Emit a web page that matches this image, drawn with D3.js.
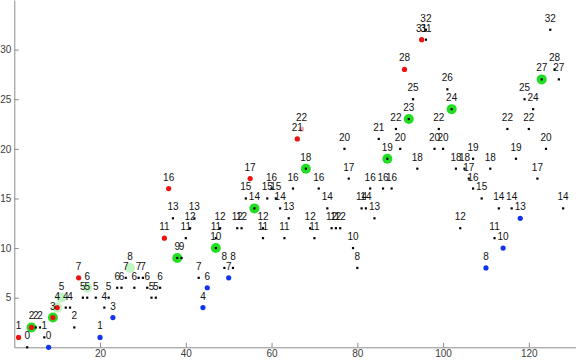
<!DOCTYPE html>
<html>
<head>
<meta charset="utf-8">
<script src="https://cdn.jsdelivr.net/npm/d3@7/dist/d3.min.js"></script>
<style>
  body { margin: 0; background: #fff; }
  svg { display: block; font-family: "Liberation Sans", Arial, sans-serif; }
</style>
</head>
<body>
<div class="chart"></div>
<script>
// values: x position, y value (each label = its y value)
const blackX = [3, 5, 6, 7, 12, 13, 14, 16, 17, 19, 21, 22, 24, 25, 26, 28, 29, 30, 31, 32, 33, 34,
  37, 38, 39, 40, 41, 42, 43, 47, 47, 48, 49, 51, 52, 53, 54, 56, 58, 58, 59, 60, 61, 62, 63, 64, 65,
  68, 69, 70, 71, 73, 74, 75, 76, 77, 78, 79, 80, 81, 82, 83, 84, 85, 86, 87, 88, 89, 90, 92, 93, 94,
  96, 96, 98, 99, 100, 101, 102, 103, 104, 105, 106, 107, 107, 109, 111, 112, 113, 115, 116, 117, 119,
  120, 121, 122, 123, 124, 125, 126, 127, 128];
const blackY = [0, 2, 2, 1, 4, 4, 2, 5, 5, 5, 4, 5, 6, 6, 7, 6, 7, 7, 6, 5, 5, 6,
  13, 9, 9, 11, 12, 13, 7, 10, 11, 12, 8, 8, 12, 12, 15, 14, 11, 12, 15, 16, 15, 14, 11, 13, 16,
  18, 12, 11, 16, 14, 12, 12, 12, 20, 17, 10, 8, 14, 14, 16, 13, 21, 16, 19, 16, 22, 20, 23, 25, 18,
  31, 32, 20, 22, 20, 26, 24, 18, 12, 18, 17, 19, 16, 15, 18, 11, 14, 22, 14, 19, 25,
  22, 24, 17, 27, 20, 32, 28, 27, 14];

const redX = [1, 4, 9, 10, 15, 35, 36, 55, 66, 91, 95];
const redY = [1, 2, 3, 4, 7, 11, 16, 17, 21, 28, 31];

const pinkX = [67];
const pinkY = [22];

const blueX = [8, 20, 23, 44, 45, 50, 110, 114, 118];
const blueY = [0, 1, 3, 4, 6, 7, 8, 10, 13];

const greenX = [4, 9, 38, 47, 56, 68, 87, 92, 102, 123];
const greenY = [2, 3, 9, 10, 14, 18, 19, 23, 24, 27];

const paleGreenX = [10, 11, 17, 27];
const paleGreenY = [4, 5, 6, 8];

const xMajor = [20, 40, 60, 80, 100, 120];
const yMajor = [5, 10, 15, 20, 25, 30];

const width = 576;
const height = 364;

const svg = d3.select('.chart')
  .append('svg')
  .attr('width', width)
  .attr('height', height);

const x = d3.scaleLinear().domain([0, 131]).range([14.3, 576]);
const y = d3.scaleLinear().domain([0, 35]).range([347.3, 0]);

const zip = (xs, ys) => xs.map((d, i) => ({ x: d, y: ys[i] }));

// axes, Mathematica style: ticks point inward
const axisColor = '#8c8c8c';

const gx = svg.append('g').attr('transform', `translate(0,${y(0)})`);
gx.call(d3.axisBottom(x).tickValues(d3.range(5, 131, 5)).tickFormat('').tickSizeInner(-2.5).tickSizeOuter(0));
gx.call(d3.axisBottom(x).tickValues(xMajor).tickSizeInner(-4.5).tickSizeOuter(0).tickPadding(3));

const gy = svg.append('g').attr('transform', `translate(${x(0)},0)`);
gy.call(d3.axisLeft(y).tickValues(d3.range(1, 36, 1)).tickFormat('').tickSizeInner(-2.5).tickSizeOuter(0));
gy.call(d3.axisLeft(y).tickValues(yMajor).tickSizeInner(-4.5).tickSizeOuter(0).tickPadding(3));

svg.selectAll('.domain').attr('stroke', axisColor);
svg.selectAll('.tick line').attr('stroke', axisColor);
svg.selectAll('.tick text').attr('fill', '#3c3c3c').style('font-size', '10px');

// green (big) markers underneath
svg.append('g').selectAll('circle')
  .data(zip(paleGreenX, paleGreenY))
  .enter()
    .append('circle')
    .attr('cx', d => x(d.x))
    .attr('cy', d => y(d.y))
    .attr('r', 5)
    .attr('fill', '#33dd33')
    .attr('opacity', 0.3);

svg.append('g').selectAll('circle')
  .data(zip(greenX, greenY))
  .enter()
    .append('circle')
    .attr('cx', d => x(d.x))
    .attr('cy', d => y(d.y))
    .attr('r', 5)
    .attr('fill', '#22dd22');

svg.append('g').selectAll('rect')
  .data(zip(blackX, blackY))
  .enter()
    .append('rect')
    .attr('x', d => x(d.x) - 1.1)
    .attr('y', d => y(d.y) - 1.1)
    .attr('width', 2.2)
    .attr('height', 2.2)
    .attr('fill', '#000');

const dots = (xs, ys, color, op) => svg.append('g').selectAll('circle')
  .data(zip(xs, ys))
  .enter()
    .append('circle')
    .attr('cx', d => x(d.x))
    .attr('cy', d => y(d.y))
    .attr('r', 2.6)
    .attr('fill', color)
    .attr('opacity', op);

dots(redX, redY, '#ee1111', 1);
dots(pinkX, pinkY, '#ee1111', 0.35);
dots(blueX, blueY, '#1133ee', 1);

// one label per point, its value, set just above it
const seen = new Set();
const labels = [];
[[blackX, blackY], [redX, redY], [blueX, blueY], [pinkX, pinkY], [paleGreenX, paleGreenY]].forEach(([xs, ys]) => {
  zip(xs, ys).forEach(d => {
    const key = d.x + ',' + d.y;
    if (!seen.has(key)) { seen.add(key); labels.push(d); }
  });
});

svg.append('g').selectAll('text')
  .data(labels)
  .enter()
    .append('text')
    .attr('x', d => x(d.x))
    .attr('y', d => y(d.y) - 8)
    .attr('text-anchor', 'middle')
    .style('font-size', '10px')
    .attr('fill', '#111')
    .text(d => d.y);
</script>
</body>
</html>
